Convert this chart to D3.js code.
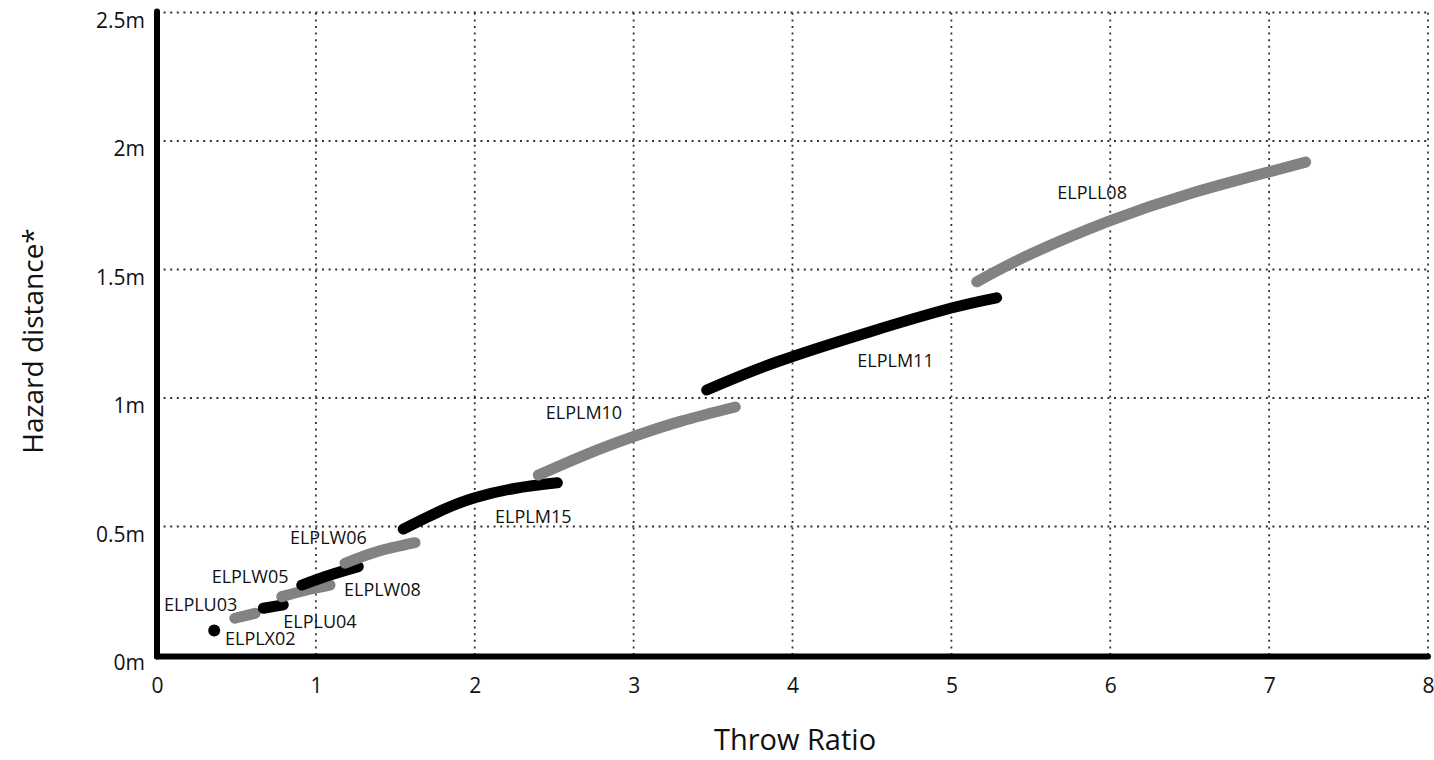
<!DOCTYPE html>
<html>
<head>
<meta charset="utf-8">
<script src="https://cdn.jsdelivr.net/npm/d3@7"></script>
<style>
  body { margin: 0; background: #fff; }
  svg { display: block; font-family: "Open Sans", "Noto Sans", sans-serif; }
</style>
</head>
<body>
<svg class="chart"></svg>
<script>
// projector series, alternating black / grey along the throw ratio axis
const names = ['ELPLX02', 'ELPLU03', 'ELPLU04', 'ELPLW08', 'ELPLW05', 'ELPLW06', 'ELPLM15', 'ELPLM10', 'ELPLM11', 'ELPLL08'];
const shades = ['black', 'grey', 'black', 'grey', 'black', 'grey', 'black', 'grey', 'black', 'grey'];

// [throw ratio, hazard distance in m]
const ELPLX02 = [[0.36, 0.095]];
const ELPLU03 = [[0.49, 0.143], [0.617, 0.162]];
const ELPLU04 = [[0.669, 0.182], [0.795, 0.195]];
const ELPLW08 = [[0.785, 0.227], [0.942, 0.253], [1.089, 0.272]];
const ELPLW05 = [[0.911, 0.272], [1.089, 0.311], [1.267, 0.344]];
const ELPLW06 = [[1.183, 0.357], [1.383, 0.402], [1.624, 0.437]];
const ELPLM15 = [[1.55, 0.49], [1.8, 0.565], [2.0, 0.612], [2.25, 0.648], [2.52, 0.67]];
const ELPLM10 = [[2.40, 0.70], [2.7, 0.78], [3.0, 0.85], [3.3, 0.91], [3.64, 0.965]];
const ELPLM11 = [[3.46, 1.031], [3.9, 1.14], [4.5, 1.26], [5.0, 1.35], [5.285, 1.39]];
const ELPLL08 = [[5.16, 1.452], [5.5, 1.56], [6.0, 1.69], [6.5, 1.795], [7.0, 1.88], [7.23, 1.918]];
const seriesValues = [ELPLX02, ELPLU03, ELPLU04, ELPLW08, ELPLW05, ELPLW06, ELPLM15, ELPLM10, ELPLM11, ELPLL08];

// where each name is written, in chart units (left edge, baseline)
const labelAt = [[0.428, 0.039], [0.044, 0.171], [0.795, 0.106], [1.177, 0.230], [0.344, 0.279],
                 [0.837, 0.432], [2.128, 0.515], [2.447, 0.917], [4.408, 1.119], [5.667, 1.774]];

const xTicks = [0, 1, 2, 3, 4, 5, 6, 7, 8];
const yTicks = [0, 0.5, 1, 1.5, 2, 2.5];

const W = 1434, H = 760;
const margin = {top: 12.5, right: 6, bottom: 105, left: 157};
const colour = {black: '#000000', grey: '#828282'};

const svg = d3.select('.chart').attr('width', W).attr('height', H);

const x = d3.scaleLinear().domain([0, 8]).range([margin.left, W - margin.right]);
const y = d3.scaleLinear().domain([0, 2.5]).range([H - margin.bottom, margin.top]);

// dotted grid
const grid = svg.append('g')
    .attr('stroke', '#333')
    .attr('stroke-width', 1.8)
    .attr('stroke-dasharray', '2,4.6');

grid.selectAll('line.v')
    .data(xTicks.filter(d => d > 0))
    .enter().append('line')
    .attr('x1', d => x(d)).attr('x2', d => x(d))
    .attr('y1', y(0)).attr('y2', y(2.5));

grid.selectAll('line.h')
    .data(yTicks.filter(d => d > 0))
    .enter().append('line')
    .attr('x1', x(0)).attr('x2', x(8))
    .attr('y1', d => y(d)).attr('y2', d => y(d));

// tick labels
const yAxis = svg.append('g')
    .attr('transform', `translate(${x(0)},0)`)
    .call(d3.axisLeft(y).tickValues(yTicks).tickFormat(d => d + 'm').tickSize(0).tickPadding(12));
yAxis.select('.domain').remove();
yAxis.selectAll('text')
    .attr('dy', '0.7em')
    .attr('font-size', 21)
    .attr('font-family', '"Open Sans", sans-serif')
    .attr('fill', '#111');

const xAxis = svg.append('g')
    .attr('transform', `translate(0,${y(0)})`)
    .call(d3.axisBottom(x).tickValues(xTicks).tickFormat(d3.format('d')).tickSize(0).tickPadding(23));
xAxis.select('.domain').remove();
xAxis.selectAll('text')
    .attr('font-size', 21)
    .attr('font-family', '"Open Sans", sans-serif')
    .attr('fill', '#111');

// thick axis lines
svg.append('line')
    .attr('x1', x(0)).attr('x2', x(0))
    .attr('y1', y(2.5) - 1).attr('y2', y(0) + 1.5)
    .attr('stroke', '#000').attr('stroke-width', 6).attr('stroke-linecap', 'round');
svg.append('line')
    .attr('x1', x(0)).attr('x2', x(8))
    .attr('y1', y(0) + 1.5).attr('y2', y(0) + 1.5)
    .attr('stroke', '#000').attr('stroke-width', 6).attr('stroke-linecap', 'round');

// series
const line = d3.line()
    .x(d => x(d[0]))
    .y(d => y(d[1]))
    .curve(d3.curveNatural);

const marks = svg.append('g');
seriesValues.forEach((vals, i) => {
    if (vals.length === 1) {
        marks.append('circle')
            .attr('cx', x(vals[0][0]))
            .attr('cy', y(vals[0][1]))
            .attr('r', 6)
            .attr('fill', colour[shades[i]]);
    } else {
        marks.append('path')
            .datum(vals)
            .attr('fill', 'none')
            .attr('stroke', colour[shades[i]])
            .attr('stroke-width', 11)
            .attr('stroke-linecap', 'round')
            .attr('d', line);
    }
});

// series names
svg.append('g')
    .selectAll('text')
    .data(names)
    .enter().append('text')
    .attr('x', (d, i) => x(labelAt[i][0]))
    .attr('y', (d, i) => y(labelAt[i][1]))
    .attr('font-size', 18)
    .attr('fill', '#111')
    .text(d => d);

// axis titles
svg.append('text')
    .attr('x', 795)
    .attr('y', 750)
    .attr('text-anchor', 'middle')
    .attr('font-size', 29)
    .attr('fill', '#111')
    .text('Throw Ratio');

svg.append('text')
    .attr('transform', 'translate(43,341) rotate(-90)')
    .attr('text-anchor', 'middle')
    .attr('font-size', 28)
    .attr('fill', '#111')
    .text('Hazard distance*');
</script>
</body>
</html>
